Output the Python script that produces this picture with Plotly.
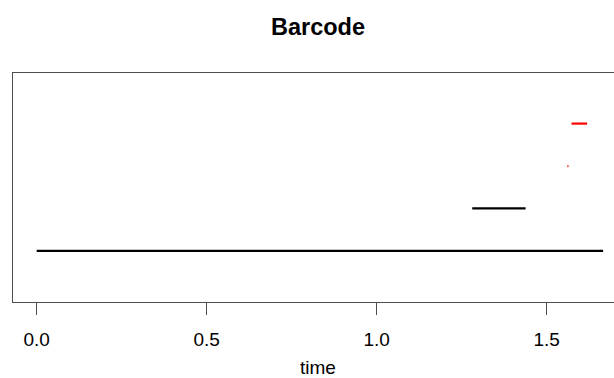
import plotly.graph_objects as go

# Barcode data: birth / death times, dimension (0 = black, 1 = red)
births = [0.0, 1.281, 1.561, 1.573]
deaths = [1.666, 1.438, 1.564, 1.619]
dims = [0, 0, 1, 1]
bar_index = [1, 2, 3, 4]
tick_vals = [0.0, 0.5, 1.0, 1.5]
tick_text = ["0.0", "0.5", "1.0", "1.5"]
dim_colors = {0: "#000000", 1: "#FF0000"}

fig = go.Figure()
for b, d, dm, i in zip(births, deaths, dims, bar_index):
    fig.add_trace(go.Scatter(
        x=[b, d], y=[i, i], mode="lines",
        line=dict(color=dim_colors[dm], width=2.2),
        showlegend=False, hoverinfo="skip"))

FONT = "Liberation Sans, Arial, sans-serif"
fig.update_layout(
    width=614, height=378,
    margin=dict(l=13, r=0, t=73, b=76),
    paper_bgcolor="white", plot_bgcolor="white",
    font=dict(family=FONT, size=19, color="#000000"),
    title=dict(text="<b>Barcode</b>", xref="container", x=318/614, xanchor="center",
               yref="container", y=1 - 27/378, yanchor="middle",
               font=dict(family=FONT, size=23.5, color="#000000")),
    xaxis=dict(range=[-0.0697, 1.698], tickvals=tick_vals, ticktext=tick_text,
               ticks="outside", ticklen=12, tickwidth=1.2, tickcolor="#4d4d4d",
               showline=True, linecolor="#4d4d4d", linewidth=1.2, mirror=True,
               showgrid=False, zeroline=False, ticklabelstandoff=8,
               tickfont=dict(family=FONT, size=19, color="#000000")),
    yaxis=dict(range=[-0.204, 5.192], showticklabels=False, ticks="",
               showline=True, linecolor="#4d4d4d", linewidth=1.2, mirror=False,
               showgrid=False, zeroline=False),
)
fig.add_annotation(text="time", xref="paper", yref="paper",
                   x=(318 - 13) / (614 - 13), y=-65 / 229,
                   xanchor="center", yanchor="middle", showarrow=False,
                   font=dict(family=FONT, size=19, color="#000000"))
fig.write_html("out.html")
